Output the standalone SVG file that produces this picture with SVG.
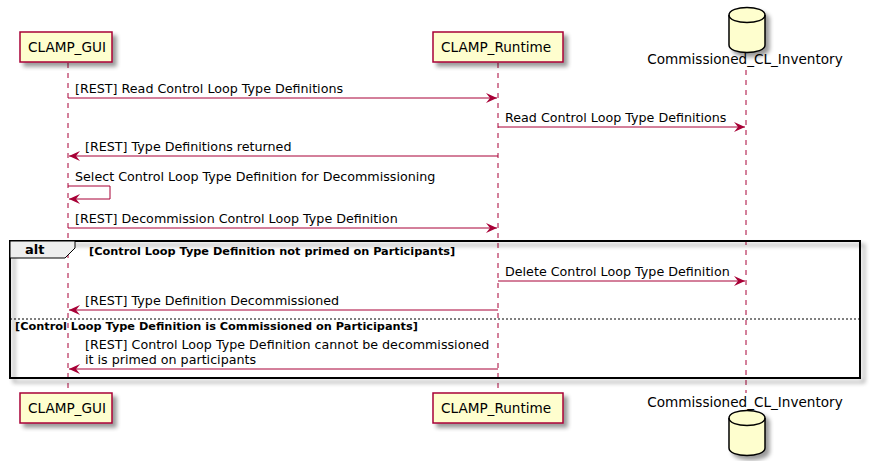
<svg xmlns="http://www.w3.org/2000/svg" width="871" height="461" viewBox="0 0 871 461">
<defs>
<filter id="sh" x="-20%" y="-20%" width="150%" height="160%"><feGaussianBlur in="SourceAlpha" stdDeviation="2"/><feOffset dx="4" dy="4"/><feComponentTransfer><feFuncA type="linear" slope="0.4"/></feComponentTransfer><feMerge><feMergeNode/><feMergeNode in="SourceGraphic"/></feMerge></filter>
<marker id="ah" viewBox="0 0 12 10" refX="11" refY="5" markerWidth="12" markerHeight="10" markerUnits="userSpaceOnUse" orient="auto"><path d="M0,0 L11,5 L0,10 L4,5 Z" fill="#A80036"/></marker>
</defs>
<style>
text{font-family:"DejaVu Sans",sans-serif;fill:#000}
.pb{fill:#FEFECE;stroke:#A80036;stroke-width:1.5}
.pt{font-size:13.6px}
.ll{stroke:#A80036;stroke-width:1;stroke-dasharray:5,5}
.m{stroke:#A80036;stroke-width:1;fill:none;marker-end:url(#ah)}
.mt{font-size:12.7px}
.g{font-size:11.3px;font-weight:bold}
</style>
<rect width="871" height="461" fill="#fff"/>
<g id="lifelines">
<line class="ll" x1="68" y1="63" x2="68" y2="393"/>
<line class="ll" x1="498" y1="63" x2="498" y2="393"/>
<line class="ll" x1="746" y1="70" x2="746" y2="393"/>
</g>
<g id="alt">
<rect x="10" y="241" width="850" height="137" fill="none" stroke="#000" stroke-width="2" filter="url(#sh)"/>
<path d="M10,241 H75 V248 L65,258 H10 Z" fill="#EEEEEE" stroke="#000" stroke-width="1"/>
<text x="25" y="254" font-size="13" style="font-weight:bold">alt</text>
<text class="g" x="89" y="255">[Control Loop Type Definition not primed on Participants]</text>
<line x1="10" y1="319" x2="860" y2="319" stroke="#000" stroke-width="1" stroke-dasharray="2,2"/>
<text class="g" x="15" y="330">[Control Loop Type Definition is Commissioned on Participants]</text>
</g>
<g id="CLAMP_GUI">
<rect class="pb" x="20" y="32" width="92" height="30" filter="url(#sh)"/>
<text class="pt" x="28" y="52">CLAMP_GUI</text>
<rect class="pb" x="20" y="393" width="92" height="30" filter="url(#sh)"/>
<text class="pt" x="28" y="413">CLAMP_GUI</text>
</g>
<g id="CLAMP_Runtime">
<rect class="pb" x="433" y="32" width="130" height="30" filter="url(#sh)"/>
<text class="pt" x="441" y="52">CLAMP_Runtime</text>
<rect class="pb" x="433" y="393" width="130" height="30" filter="url(#sh)"/>
<text class="pt" x="441" y="413">CLAMP_Runtime</text>
</g>
<g id="Commissioned_CL_Inventory">
<g filter="url(#sh)">
<path d="M729,15 C729,5 765,5 765,15 V45 C765,55 729,55 729,45 Z" class="pb" style="stroke:#000"/>
<path d="M729,15 C729,25 765,25 765,15" fill="none" stroke="#000" stroke-width="1.5"/>
</g>
<text class="pt" x="745" y="64" text-anchor="middle">Commissioned_CL_Inventory</text>
<g filter="url(#sh)">
<path d="M729,418 C729,408 765,408 765,418 V448 C765,458 729,458 729,448 Z" class="pb" style="stroke:#000"/>
<path d="M729,418 C729,428 765,428 765,418" fill="none" stroke="#000" stroke-width="1.5"/>
</g>
<text class="pt" x="745" y="407" text-anchor="middle">Commissioned_CL_Inventory</text>
</g>
<g id="connectors">
<line class="m" x1="68" y1="98" x2="497" y2="98"/>
<text class="mt" x="75" y="93">[REST] Read Control Loop Type Definitions</text>
<line class="m" x1="498" y1="127" x2="745" y2="127"/>
<text class="mt" x="505" y="122">Read Control Loop Type Definitions</text>
<line class="m" x1="498" y1="156" x2="69" y2="156"/>
<text class="mt" x="85" y="151">[REST] Type Definitions returned</text>
<path class="m" d="M68,186 H110 V199 H69"/>
<text class="mt" x="75" y="181">Select Control Loop Type Definition for Decommissioning</text>
<line class="m" x1="68" y1="228" x2="497" y2="228"/>
<text class="mt" x="75" y="223">[REST] Decommission Control Loop Type Definition</text>
<line class="m" x1="498" y1="281" x2="745" y2="281"/>
<text class="mt" x="505" y="276">Delete Control Loop Type Definition</text>
<line class="m" x1="498" y1="310" x2="69" y2="310"/>
<text class="mt" x="85" y="305">[REST] Type Definition Decommissioned</text>
<line class="m" x1="498" y1="369" x2="69" y2="369"/>
<text class="mt" x="85" y="349">[REST] Control Loop Type Definition cannot be decommissioned</text>
<text class="mt" x="85" y="364">it is primed on participants</text>
</g>
</svg>
